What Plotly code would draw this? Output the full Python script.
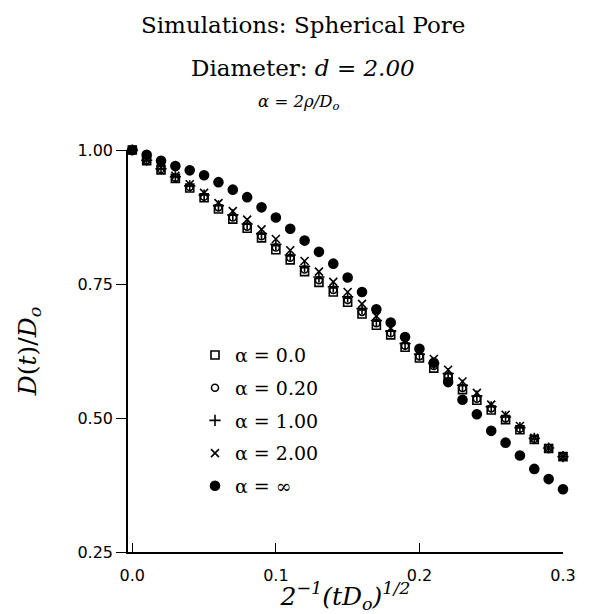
import plotly.graph_objects as go

x_vals = [i / 100 for i in range(31)]

alpha_0 = [1.000, 0.980, 0.963, 0.947, 0.929, 0.911, 0.890, 0.871, 0.854, 0.836, 0.814,
           0.795, 0.773, 0.753, 0.735, 0.716, 0.694, 0.673, 0.655, 0.632, 0.612,
           0.593, 0.575, 0.553, 0.533, 0.515, 0.497, 0.478, 0.460, 0.443, 0.428]
alpha_020 = [1.000, 0.981, 0.964, 0.948, 0.931, 0.913, 0.893, 0.874, 0.857, 0.839, 0.818,
             0.799, 0.777, 0.757, 0.739, 0.720, 0.698, 0.677, 0.658, 0.635, 0.615,
             0.597, 0.578, 0.556, 0.536, 0.518, 0.499, 0.480, 0.461, 0.444, 0.428]
alpha_100 = [1.000, 0.981, 0.965, 0.950, 0.933, 0.916, 0.896, 0.879, 0.862, 0.844, 0.824,
             0.804, 0.783, 0.763, 0.745, 0.726, 0.704, 0.682, 0.662, 0.639, 0.619,
             0.602, 0.583, 0.561, 0.541, 0.521, 0.502, 0.482, 0.462, 0.444, 0.428]
alpha_200 = [1.000, 0.982, 0.967, 0.952, 0.936, 0.920, 0.901, 0.886, 0.870, 0.852, 0.834,
             0.813, 0.793, 0.773, 0.754, 0.735, 0.713, 0.690, 0.668, 0.645, 0.624,
             0.610, 0.590, 0.568, 0.547, 0.525, 0.506, 0.485, 0.463, 0.444, 0.428]
alpha_inf = [1.000, 0.991, 0.980, 0.970, 0.962, 0.953, 0.940, 0.926, 0.912, 0.893, 0.874,
             0.853, 0.831, 0.810, 0.788, 0.762, 0.735, 0.703, 0.678, 0.651, 0.629,
             0.603, 0.567, 0.534, 0.507, 0.476, 0.454, 0.430, 0.405, 0.386, 0.367]

series_names = ["α = 0.0", "α = 0.20", "α = 1.00", "α = 2.00", "α = ∞"]
series_values = [alpha_0, alpha_020, alpha_100, alpha_200, alpha_inf]
symbols = ["square-open", "circle-open", "cross-thin-open", "x-thin-open", "circle"]
sizes = [8, 7, 8, 8, 9]

x_ticks = [0.0, 0.1, 0.2, 0.3]
y_ticks = [0.25, 0.50, 0.75, 1.00]

fig = go.Figure()
for i, (name, vals, sym, sz) in enumerate(zip(series_names, series_values, symbols, sizes)):
    fig.add_trace(go.Scatter(
        x=x_vals, y=vals, mode="markers", name=name, legendgroup=str(i),
        cliponaxis=False,
        marker=dict(symbol=sym, size=sz, color="black",
                    line=dict(color="black", width=1.6)),
    ))

serif = "DejaVu Serif"
fig.update_layout(
    width=582, height=606,
    margin=dict(l=120, r=27, t=142, b=62),
    paper_bgcolor="white", plot_bgcolor="white",
    showlegend=True,
    legend=dict(x=0.154, y=0.537, xanchor="left", yanchor="top",
                font=dict(family=serif, size=19, color="black"),
                bgcolor="rgba(0,0,0,0)", tracegroupgap=5,
                itemsizing="trace"),
    xaxis=dict(range=[-0.003, 0.3], showgrid=False, zeroline=False,
               showline=True, linecolor="black", linewidth=1.5,
               ticks="inside", ticklen=9, tickwidth=1.3, tickcolor="black",
               tickvals=x_ticks, ticktext=[f"{v:.1f}" for v in x_ticks],
               ticklabelstandoff=8,
               tickfont=dict(family="DejaVu Sans", size=16, color="black"),
               title=dict(text="<i>2<sup>−1</sup>(tD<sub>o</sub>)<sup>1/2</sup></i>",
                          font=dict(family=serif, size=25, color="black"),
                          standoff=0)),
    yaxis=dict(range=[0.25, 1.0], showgrid=False, zeroline=False,
               showline=True, linecolor="black", linewidth=1.5,
               ticks="outside", ticklen=10, tickwidth=1.3, tickcolor="black",
               tickvals=y_ticks, ticktext=[f"{v:.2f}" for v in y_ticks],
               tickfont=dict(family="DejaVu Sans", size=16, color="black"),
               title=dict(text="<i>D</i>(<i>t</i>)/<i>D<sub>o</sub></i>",
                          font=dict(family=serif, size=25, color="black"),
                          standoff=34)),
    annotations=[
        dict(text="Simulations: Spherical Pore", xref="paper", yref="paper",
             x=0.402, y=1.311, xanchor="center", yanchor="middle", showarrow=False,
             font=dict(family=serif, size=23, color="black")),
        dict(text="Diameter: <i>d</i> = <i>2.00</i>", xref="paper", yref="paper",
             x=0.402, y=1.204, xanchor="center", yanchor="middle", showarrow=False,
             font=dict(family=serif, size=23, color="black")),
        dict(text="<i>α = 2ρ/D<sub>o</sub></i>", xref="paper", yref="paper",
             x=0.392, y=1.117, xanchor="center", yanchor="middle", showarrow=False,
             font=dict(family=serif, size=16.5, color="black")),
    ],
)

fig.write_html("out.html")
